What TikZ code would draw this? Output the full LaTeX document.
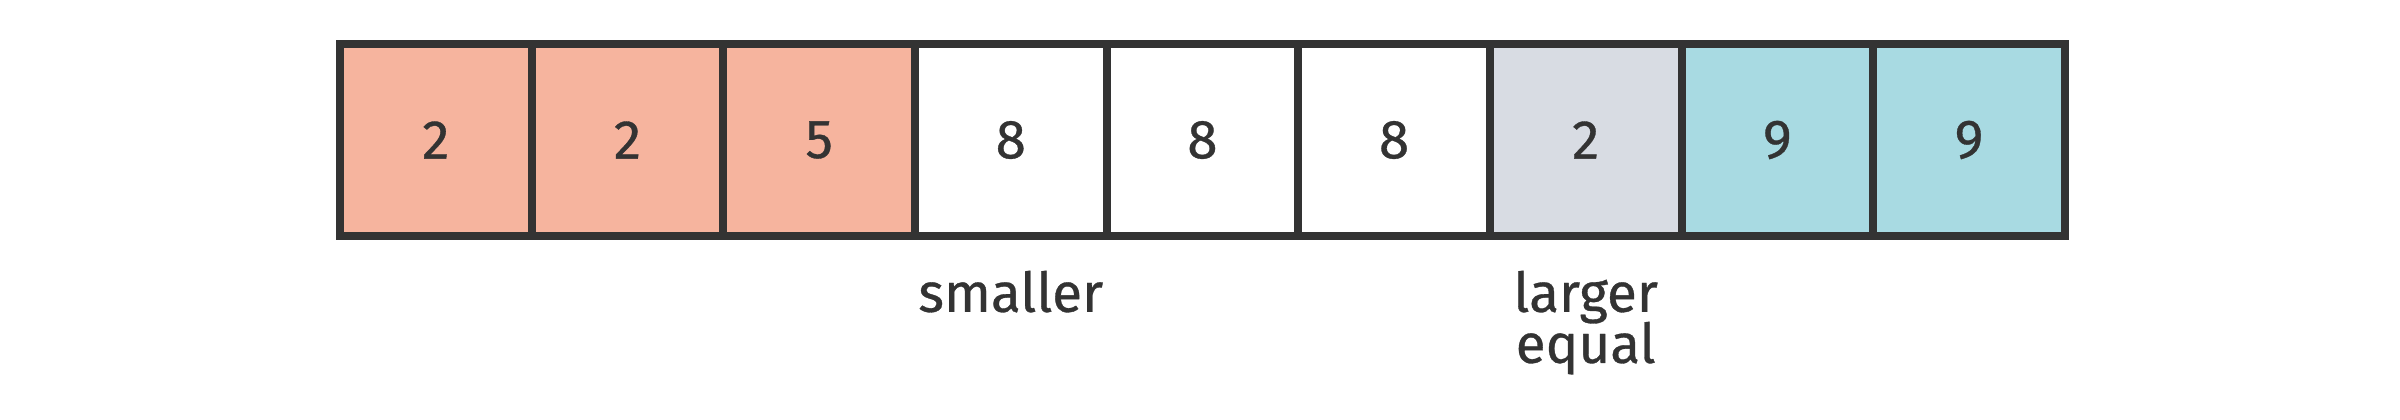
\documentclass[tikz,border=0pt]{standalone}
\usepackage{fontspec}
\setmainfont{Fira Sans}[FakeBold=0.6]
\usetikzlibrary{positioning}
\definecolor{smallred}{HTML}{F6B49E}
\definecolor{pivotgray}{HTML}{D8DCE3}
\definecolor{largeblue}{HTML}{A8DAE2}
\definecolor{darkline}{HTML}{333333}
\tikzstyle{cell} = [rectangle, draw=darkline, line width=1.9pt, fill=white,
    minimum width=1.597cm, minimum height=1.6cm, inner sep=0pt, outer sep=0pt,
    text=darkline, font=\fontsize{13}{15}\selectfont]
\tikzstyle{caption} = [inner sep=0pt, outer sep=0pt, text=darkline, align=center,
    font=\fontsize{13}{12.1}\selectfont]
\setlength{\lineskiplimit}{-10pt}

\begin{document}
\begin{tikzpicture}
	\useasboundingbox (0,0) rectangle (20,3.5);
	% Place nodes
	\node [cell, fill=smallred] (c1) at (3.632,2.333) {2};
	\node [cell, fill=smallred, right=0pt of c1] (c2) {2};
	\node [cell, fill=smallred, right=0pt of c2] (c3) {5};
	\node [cell, right=0pt of c3] (c4) {8};
	\node [cell, right=0pt of c4] (c5) {8};
	\node [cell, right=0pt of c5] (c6) {8};
	\node [cell, fill=pivotgray, right=0pt of c6] (c7) {2};
	\node [cell, fill=largeblue, right=0pt of c7] (c8) {9};
	\node [cell, fill=largeblue, right=0pt of c8] (c9) {9};

	% Pointers
	\node [caption, below=0.289cm of c4] (smaller) {smaller};
	\node [caption, below=0.289cm of c7] (larger) {larger\\equal};
\end{tikzpicture}
\end{document}
